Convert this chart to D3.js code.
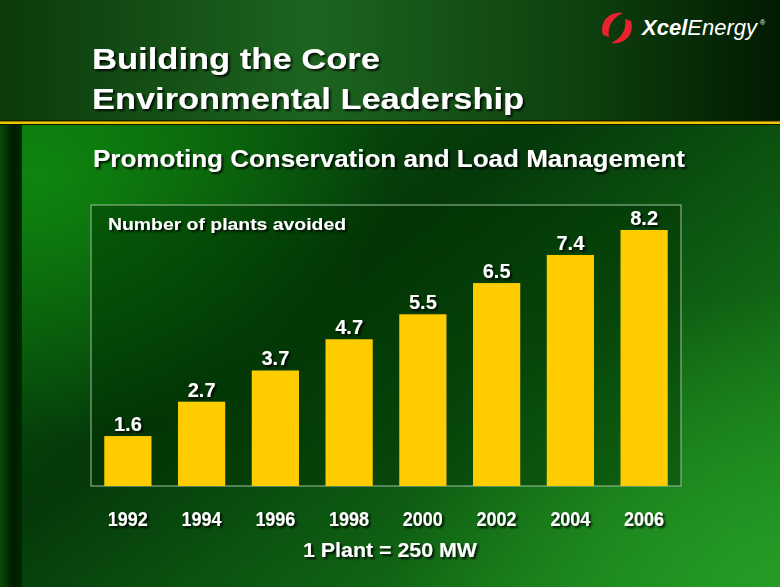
<!DOCTYPE html>
<html>
<head>
<meta charset="utf-8">
<script src="https://cdnjs.cloudflare.com/ajax/libs/d3/7.8.5/d3.min.js"></script>
<style>
  body { margin: 0; background: #0a4a0a; }
  svg { display: block; font-family: "Liberation Sans", Arial, sans-serif; }
</style>
</head>
<body>
<div id="chart"></div>
<script>
// data
var years = ["1992", "1994", "1996", "1998", "2000", "2002", "2004", "2006"];
var plantsAvoided = [1.6, 2.7, 3.7, 4.7, 5.5, 6.5, 7.4, 8.2];
var titleLines = ["Building the Core", "Environmental Leadership"];
var subtitle = "Promoting Conservation and Load Management";
var seriesLabel = "Number of plants avoided";
var footnote = "1 Plant = 250 MW";

var W = 780, H = 587;
var plot = { left: 91, right: 681, top: 205, bottom: 486 };

var svg = d3.select("#chart").append("svg")
    .attr("width", W)
    .attr("height", H);

var defs = svg.append("defs");

// background gradients
var bg = defs.append("linearGradient").attr("id", "bg")
    .attr("x1", 0).attr("y1", 0).attr("x2", 1).attr("y2", 1);
bg.append("stop").attr("offset", "0%").attr("stop-color", "#0c6a0c");
bg.append("stop").attr("offset", "45%").attr("stop-color", "#04380a");
bg.append("stop").attr("offset", "100%").attr("stop-color", "#1c8c1c");

var glow = defs.append("radialGradient").attr("id", "glow")
    .attr("cx", 0.05).attr("cy", 0.3).attr("r", 0.45);
glow.append("stop").attr("offset", "0%").attr("stop-color", "#109010").attr("stop-opacity", 0.8);
glow.append("stop").attr("offset", "100%").attr("stop-color", "#109010").attr("stop-opacity", 0);

var glow2 = defs.append("radialGradient").attr("id", "glow2")
    .attr("cx", 1).attr("cy", 1).attr("r", 0.5);
glow2.append("stop").attr("offset", "0%").attr("stop-color", "#28a028").attr("stop-opacity", 0.8);
glow2.append("stop").attr("offset", "100%").attr("stop-color", "#28a028").attr("stop-opacity", 0);

var head = defs.append("linearGradient").attr("id", "head")
    .attr("x1", 0).attr("y1", 0).attr("x2", 1).attr("y2", 0);
head.append("stop").attr("offset", "0%").attr("stop-color", "#0b3a0b");
head.append("stop").attr("offset", "40%").attr("stop-color", "#1d6420");
head.append("stop").attr("offset", "75%").attr("stop-color", "#0d400d");
head.append("stop").attr("offset", "100%").attr("stop-color", "#021a02");

var strip = defs.append("linearGradient").attr("id", "strip")
    .attr("x1", 0).attr("y1", 0).attr("x2", 1).attr("y2", 0);
strip.append("stop").attr("offset", "0%").attr("stop-color", "#0a4a0a");
strip.append("stop").attr("offset", "60%").attr("stop-color", "#001c00");
strip.append("stop").attr("offset", "100%").attr("stop-color", "#002a00");

var shadow = defs.append("filter").attr("id", "shadow")
    .attr("x", "-10%").attr("y", "-20%").attr("width", "130%").attr("height", "150%");
shadow.append("feDropShadow").attr("dx", 2).attr("dy", 2)
    .attr("stdDeviation", 0.8).attr("flood-color", "#000").attr("flood-opacity", 0.85);

svg.append("rect").attr("width", W).attr("height", H).attr("fill", "url(#bg)");
svg.append("rect").attr("width", W).attr("height", H).attr("fill", "url(#glow)");
svg.append("rect").attr("width", W).attr("height", H).attr("fill", "url(#glow2)");
svg.append("rect").attr("x", 0).attr("y", 124).attr("width", 22).attr("height", H - 124)
    .attr("fill", "url(#strip)");

// header band
svg.append("rect").attr("width", W).attr("height", 121).attr("fill", "url(#head)");
svg.append("rect").attr("y", 120).attr("width", W).attr("height", 1.5).attr("fill", "#1a1a00");
svg.append("rect").attr("y", 121.5).attr("width", W).attr("height", 2.5).attr("fill", "#f0c400");
svg.append("rect").attr("y", 124).attr("width", W).attr("height", 1).attr("fill", "#0a1a00");

// title
svg.selectAll(".title")
    .data(titleLines)
    .enter().append("text")
    .attr("class", "title")
    .attr("x", 92)
    .attr("y", function(d, i) { return 69 + i * 40; })
    .attr("textLength", function(d, i) { return i == 0 ? 288 : 432; })
    .attr("lengthAdjust", "spacingAndGlyphs")
    .attr("fill", "#fff")
    .attr("font-size", 30)
    .attr("font-weight", "bold")
    .attr("filter", "url(#shadow)")
    .text(function(d) { return d; });

svg.append("text")
    .attr("x", 93).attr("y", 167)
    .attr("textLength", 592)
    .attr("lengthAdjust", "spacingAndGlyphs")
    .attr("fill", "#fff")
    .attr("font-size", 23)
    .attr("font-weight", "bold")
    .attr("filter", "url(#shadow)")
    .text(subtitle);

// logo
var logo = svg.append("g").attr("transform", "translate(617,28)");
logo.append("path")
    .attr("d", "M-14,7 C-18,-7 -7,-17 6,-15 C-3,-11 -10,-3 -8,9 Z")
    .attr("fill", "#e8232f");
logo.append("path")
    .attr("d", "M14,-7 C18,7 7,17 -6,15 C3,11 10,3 8,-9 Z")
    .attr("fill", "#e8232f");
var logoText = logo.append("text")
    .attr("x", 25).attr("y", 7)
    .attr("textLength", 115)
    .attr("lengthAdjust", "spacingAndGlyphs")
    .attr("fill", "#fff")
    .attr("font-size", 22)
    .attr("font-style", "italic");
logoText.append("tspan").attr("font-weight", "bold").text("Xcel");
logoText.append("tspan").text("Energy");
logo.append("text")
    .attr("x", 143).attr("y", -3)
    .attr("fill", "#fff")
    .attr("font-size", 7)
    .text("\u00ae");

// scales
var x = d3.scaleBand()
    .domain(years)
    .range([plot.left, plot.right])
    .paddingInner(0.36)
    .paddingOuter(0.18);

var y = d3.scaleLinear()
    .domain([0, 9])
    .range([plot.bottom, plot.top]);

// plot frame
svg.append("rect")
    .attr("x", plot.left)
    .attr("y", plot.top)
    .attr("width", plot.right - plot.left)
    .attr("height", plot.bottom - plot.top)
    .attr("fill", "#003000")
    .attr("fill-opacity", 0.45)
    .attr("stroke", "#9fbf9f")
    .attr("stroke-width", 1);

svg.append("text")
    .attr("x", 108).attr("y", 230)
    .attr("textLength", 238)
    .attr("lengthAdjust", "spacingAndGlyphs")
    .attr("fill", "#fff")
    .attr("font-size", 17)
    .attr("font-weight", "bold")
    .attr("filter", "url(#shadow)")
    .text(seriesLabel);

var data = years.map(function(d, i) { return { year: d, value: plantsAvoided[i] }; });

svg.selectAll(".bar")
    .data(data)
    .enter().append("rect")
    .attr("class", "bar")
    .attr("x", function(d) { return x(d.year); })
    .attr("width", x.bandwidth())
    .attr("y", function(d) { return y(d.value); })
    .attr("height", function(d) { return plot.bottom - y(d.value); })
    .attr("fill", "#ffcc00");

svg.selectAll(".val")
    .data(data)
    .enter().append("text")
    .attr("class", "val")
    .attr("x", function(d) { return x(d.year) + x.bandwidth() / 2; })
    .attr("y", function(d) { return y(d.value) - 5; })
    .attr("text-anchor", "middle")
    .attr("fill", "#fff")
    .attr("font-size", 20)
    .attr("font-weight", "bold")
    .attr("filter", "url(#shadow)")
    .text(function(d) { return d.value.toFixed(1); });

// x axis (year labels)
var xAxis = svg.append("g")
    .attr("transform", "translate(0," + plot.bottom + ")")
    .call(d3.axisBottom(x).tickSize(0));
xAxis.select(".domain").remove();
xAxis.selectAll("text")
    .attr("y", 40)
    .attr("dy", 0)
    .attr("fill", "#fff")
    .attr("font-size", 20)
    .attr("font-weight", "bold")
    .attr("font-family", "'Liberation Sans Narrow', 'Liberation Sans', Arial, sans-serif")
    .attr("textLength", 40)
    .attr("lengthAdjust", "spacingAndGlyphs")
    .attr("filter", "url(#shadow)");

svg.append("text")
    .attr("x", 390).attr("y", 557)
    .attr("text-anchor", "middle")
    .attr("textLength", 174)
    .attr("lengthAdjust", "spacingAndGlyphs")
    .attr("fill", "#fff")
    .attr("font-size", 20)
    .attr("font-weight", "bold")
    .attr("filter", "url(#shadow)")
    .text(footnote);
</script>
</body>
</html>
